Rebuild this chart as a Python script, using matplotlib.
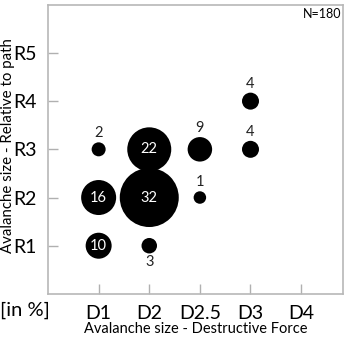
import matplotlib
matplotlib.use('Agg')
import matplotlib.pyplot as plt

plt.rcParams['font.family'] = ['Lato', 'DejaVu Sans']

# categorias de los ejes
x_labels = ['D1', 'D2', 'D2.5', 'D3', 'D4']
y_labels = ['R1', 'R2', 'R3', 'R4', 'R5']

# burbujas: posicion (indice 1..5) y porcentaje
bub_x = [1, 2, 3, 4, 4, 1, 2, 3, 1, 2]
bub_y = [3, 3, 3, 3, 4, 2, 2, 2, 1, 1]
bub_pct = [2, 22, 9, 4, 4, 16, 32, 1, 10, 3]

# etiquetas dentro de la burbuja (True) o fuera
inside = [False, True, False, False, False, True, True, False, True, False]
below = [False, False, False, False, False, False, False, False, False, True]


def main():
    fig = plt.figure(figsize=(3.48, 3.39), dpi=100)
    ax = fig.add_axes([0.138, 0.133, 0.848, 0.853])

    # diametro en px segun el valor
    diam = [11 + 1.5 * v for v in bub_pct]
    sizes = [(d * 0.72) ** 2 for d in diam]
    ax.scatter(bub_x, bub_y, s=sizes, color='black', linewidths=0, zorder=3)

    for x, y, v, d, ins, bel in zip(bub_x, bub_y, bub_pct, diam, inside, below):
        if ins:
            ax.text(x, y, str(v), color='white', fontsize=10.5,
                    ha='center', va='center', zorder=4)
        else:
            off = (d / 2 + 9) * 0.72
            ax.annotate(str(v), (x, y), xytext=(0, -off if bel else off),
                        textcoords='offset points', ha='center', va='center',
                        fontsize=10.5, color='#222222')

    ax.set_xlim(0, 5.83)
    ax.set_ylim(0, 6)
    ax.set_xticks(range(1, 6))
    ax.set_xticklabels(x_labels, fontsize=14)
    ax.set_yticks(range(1, 6))
    ax.set_yticklabels(y_labels, fontsize=14)
    ax.tick_params(direction='in', length=7, color='#b0b0b0', width=1, pad=8)
    ax.tick_params(axis='y', pad=8)

    for sp in ax.spines.values():
        sp.set_color('#b8b8b8')
        sp.set_linewidth(1.2)

    ax.set_xlabel('Avalanche size - Destructive Force', fontsize=10.5, labelpad=0)
    fig.text(0.022, 0.572, 'Avalanche size - Relative to path', rotation=90,
             fontsize=10.8, ha='center', va='center')
    fig.text(0.0, 0.085, '[in %]', fontsize=14.5, ha='left', va='center')
    ax.text(0.995, 0.99, 'N=180', transform=ax.transAxes, fontsize=9,
            ha='right', va='top')

    fig.savefig('out.png', dpi=100)
    plt.close(fig)


if __name__ == '__main__':
    main()
